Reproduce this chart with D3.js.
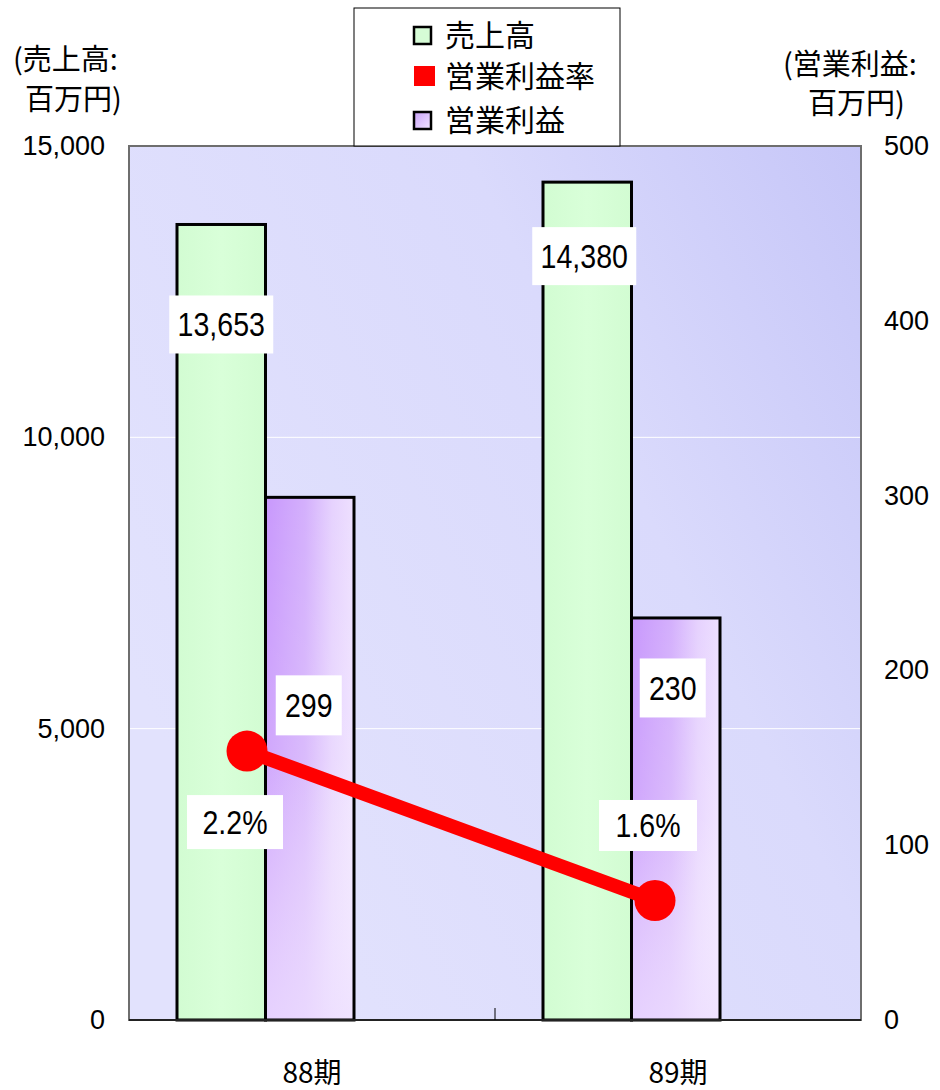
<!DOCTYPE html>
<html><head><meta charset="utf-8">
<script src="https://cdn.jsdelivr.net/npm/d3@7"></script>
<style>
html,body{margin:0;padding:0;background:#fff;}
svg{display:block;}
</style></head>
<body>
<svg id="chart" width="940" height="1090"></svg>
<script>
// ---- data ----
const categories = ["88期", "89期"];
const sales = [13653, 14380];            // 売上高 (left axis)
const profit = [299, 230];               // 営業利益 (right axis)
const margin = [2.2, 1.6];               // 営業利益率 (%)
const salesLabels = ["13,653", "14,380"];
const profitLabels = ["299", "230"];
const marginLabels = ["2.2%", "1.6%"];
const leftTicks = [0, 5000, 10000, 15000];
const rightTicks = [0, 100, 200, 300, 400, 500];
const legendItems = ["売上高", "営業利益率", "営業利益"];

// ---- layout ----
const plot = {l: 129, r: 861, t: 146, b: 1020};
const svg = d3.select("#chart");
const defs = svg.append("defs");
const numFont = "'Liberation Sans', Arial, sans-serif";
const jpFont = "'Noto Sans CJK JP', sans-serif";

const x = d3.scaleBand().domain(categories).range([plot.l, plot.r]);
const yL = d3.scaleLinear().domain([0, 15000]).range([plot.b, plot.t]);
const yR = d3.scaleLinear().domain([0, 500]).range([plot.b, plot.t]);
const yM = d3.scaleLinear().domain([1.12, 4.63]).range([plot.b, plot.t]);
const xLine = d3.scalePoint().domain(categories).range([247, 655]);

// gradients
const bg = defs.append("linearGradient").attr("id", "bg")
  .attr("x1", "0").attr("y1", "0.6").attr("x2", "1").attr("y2", "0");
bg.append("stop").attr("offset", "0").attr("stop-color", "#e2e2fd");
bg.append("stop").attr("offset", "0.6").attr("stop-color", "#dadafc");
bg.append("stop").attr("offset", "1").attr("stop-color", "#c6c6f8");

const gG = defs.append("linearGradient").attr("id", "gG").attr("x1", "0").attr("x2", "1");
gG.append("stop").attr("offset", "0").attr("stop-color", "#d2fcd2");
gG.append("stop").attr("offset", "0.5").attr("stop-color", "#d9ffd9");
gG.append("stop").attr("offset", "1").attr("stop-color", "#d2fcd2");

const gP = defs.append("linearGradient").attr("id", "gP").attr("x1", "0").attr("x2", "1");
gP.append("stop").attr("offset", "0").attr("stop-color", "#c898fc");
gP.append("stop").attr("offset", "0.45").attr("stop-color", "#d4b0fc");
gP.append("stop").attr("offset", "0.75").attr("stop-color", "#e6d2fe");
gP.append("stop").attr("offset", "1").attr("stop-color", "#eee0ff");
const gPv = defs.append("linearGradient").attr("id", "gPv").attr("x1", "0").attr("x2", "0").attr("y1", "0").attr("y2", "1");
gPv.append("stop").attr("offset", "0").attr("stop-color", "#ffffff").attr("stop-opacity", "0");
gPv.append("stop").attr("offset", "0.5").attr("stop-color", "#ffffff").attr("stop-opacity", "0.15");
gPv.append("stop").attr("offset", "1").attr("stop-color", "#f0e4ff").attr("stop-opacity", "0.75");

// plot background
svg.append("rect").attr("x", plot.l).attr("y", plot.t)
  .attr("width", plot.r - plot.l).attr("height", plot.b - plot.t)
  .attr("fill", "url(#bg)");

// gridlines
svg.append("g").selectAll("line").data(leftTicks.filter(d => d > 0 && d < 15000)).join("line")
  .attr("x1", plot.l).attr("x2", plot.r)
  .attr("y1", d => yL(d)).attr("y2", d => yL(d))
  .attr("stroke", "#ffffff").attr("stroke-width", 1);

// bars
const bw = 88.5;
const off = 48;
const gBars = svg.append("g");
gBars.selectAll("rect.s").data(categories).join("rect").attr("class", "s")
  .attr("x", d => x(d) + off).attr("width", bw)
  .attr("y", (d, i) => yL(sales[i])).attr("height", (d, i) => plot.b - yL(sales[i]))
  .attr("fill", "url(#gG)").attr("stroke", "#000").attr("stroke-width", 3);
gBars.selectAll("rect.p").data(categories).join("rect").attr("class", "p")
  .attr("x", d => x(d) + off + bw).attr("width", bw)
  .attr("y", (d, i) => yR(profit[i])).attr("height", (d, i) => plot.b - yR(profit[i]))
  .attr("fill", "url(#gP)");
gBars.selectAll("rect.pv").data(categories).join("rect").attr("class", "pv")
  .attr("x", d => x(d) + off + bw).attr("width", bw)
  .attr("y", (d, i) => yR(profit[i])).attr("height", (d, i) => plot.b - yR(profit[i]))
  .attr("fill", "url(#gPv)").attr("stroke", "#000").attr("stroke-width", 3);

// plot border
svg.append("rect").attr("x", plot.l).attr("y", plot.t)
  .attr("width", plot.r - plot.l).attr("height", plot.b - plot.t)
  .attr("fill", "none").attr("stroke", "#6e6e6e").attr("stroke-width", 2);
svg.append("line").attr("x1", plot.l).attr("x2", plot.r).attr("y1", plot.b).attr("y2", plot.b)
  .attr("stroke", "#222").attr("stroke-width", 2);
// category separator tick
svg.append("line").attr("x1", x(categories[1])).attr("x2", x(categories[1]))
  .attr("y1", plot.b).attr("y2", plot.b - 12).attr("stroke", "#000").attr("stroke-width", 1);

// line
const line = d3.line().x((d, i) => xLine(categories[i])).y(d => yM(d));
svg.append("path").datum(margin).attr("d", line)
  .attr("fill", "none").attr("stroke", "#ff0000").attr("stroke-width", 14);
svg.append("g").selectAll("circle").data(margin).join("circle")
  .attr("cx", (d, i) => xLine(categories[i])).attr("cy", d => yM(d)).attr("r", 20.5)
  .attr("fill", "#ff0000");

// data labels (white boxes, condensed digits)
function boxLabel(cx, cy, text, w, h) {
  const g = svg.append("g");
  g.append("rect").attr("x", cx - w / 2).attr("y", cy - h / 2).attr("width", w).attr("height", h).attr("fill", "#fff");
  g.append("text").attr("transform", `translate(${cx},${cy + 12}) scale(0.84,1)`)
    .attr("text-anchor", "middle")
    .attr("font-family", numFont).attr("font-size", 34).attr("fill", "#000").text(text);
}
const salesLblOff = [[0, 100], [-3, 74]];
categories.forEach((c, i) => {
  const bx = x(c) + off;
  boxLabel(bx + bw / 2 + salesLblOff[i][0], yL(sales[i]) + salesLblOff[i][1], salesLabels[i], 104, 58);
});
boxLabel(x(categories[0]) + off + bw * 1.5 - 1, yR(profit[0]) + 208, profitLabels[0], 66, 60);
boxLabel(x(categories[1]) + off + bw * 1.5 - 3, yR(profit[1]) + 70, profitLabels[1], 66, 59);
boxLabel(xLine(categories[0]) - 12, yM(margin[0]) + 71, marginLabels[0], 96, 54);
boxLabel(xLine(categories[1]) - 7, yM(margin[1]) - 75, marginLabels[1], 98, 51);

// left axis tick labels
svg.append("g").selectAll("text").data(leftTicks).join("text")
  .attr("x", 105).attr("y", d => yL(d) + 9).attr("text-anchor", "end")
  .attr("font-family", numFont).attr("font-size", 27).attr("fill", "#000")
  .text(d => d3.format(",")(d));
// right axis tick labels
svg.append("g").selectAll("text").data(rightTicks).join("text")
  .attr("x", 884).attr("y", d => yR(d) + 9).attr("text-anchor", "start")
  .attr("font-family", numFont).attr("font-size", 27).attr("fill", "#000")
  .text(d => d3.format(",")(d));
// category labels
svg.append("g").selectAll("text").data(categories).join("text")
  .attr("x", d => x(d) + x.bandwidth() / 2).attr("y", 1083).attr("text-anchor", "middle")
  .attr("font-family", jpFont).attr("font-size", 28).attr("fill", "#000")
  .text(d => d);

// axis titles
const titleL = ["(売上高:", "百万円)"];
const titleR = ["(営業利益:", "百万円)"];
const tFont = 29;
svg.append("text").attr("x", 13).attr("y", 70)
  .attr("font-family", jpFont).attr("font-size", tFont).text(titleL[0]);
svg.append("text").attr("x", 25).attr("y", 110)
  .attr("font-family", jpFont).attr("font-size", tFont).text(titleL[1]);
svg.append("text").attr("x", 783).attr("y", 75)
  .attr("font-family", jpFont).attr("font-size", tFont).text(titleR[0]);
svg.append("text").attr("x", 808).attr("y", 114)
  .attr("font-family", jpFont).attr("font-size", tFont).text(titleR[1]);

// legend
const lg = svg.append("g");
lg.append("rect").attr("x", 354).attr("y", 8).attr("width", 266).attr("height", 138)
  .attr("fill", "#fff").attr("stroke", "#000").attr("stroke-width", 1);
const ly = [35, 76, 120];
const gLeg = defs.append("linearGradient").attr("id", "gLeg").attr("x1", "0").attr("x2", "1").attr("y1", "0").attr("y2", "1");
gLeg.append("stop").attr("offset", "0").attr("stop-color", "#c9a2f8");
gLeg.append("stop").attr("offset", "1").attr("stop-color", "#f0e4ff");
lg.append("rect").attr("x", 414).attr("y", ly[0] - 8).attr("width", 17).attr("height", 17)
  .attr("fill", "#d6fcd6").attr("stroke", "#000").attr("stroke-width", 2.5);
lg.append("rect").attr("x", 414).attr("y", ly[1] - 10).attr("width", 21).attr("height", 20)
  .attr("fill", "#ff0000");
lg.append("rect").attr("x", 414).attr("y", ly[2] - 8).attr("width", 17).attr("height", 17)
  .attr("fill", "url(#gLeg)").attr("stroke", "#000").attr("stroke-width", 2.5);
lg.selectAll("text").data(legendItems).join("text")
  .attr("x", 445).attr("y", (d, i) => ly[i] + 11)
  .attr("font-family", jpFont).attr("font-size", 30).attr("fill", "#000").text(d => d);
</script>
</body></html>
